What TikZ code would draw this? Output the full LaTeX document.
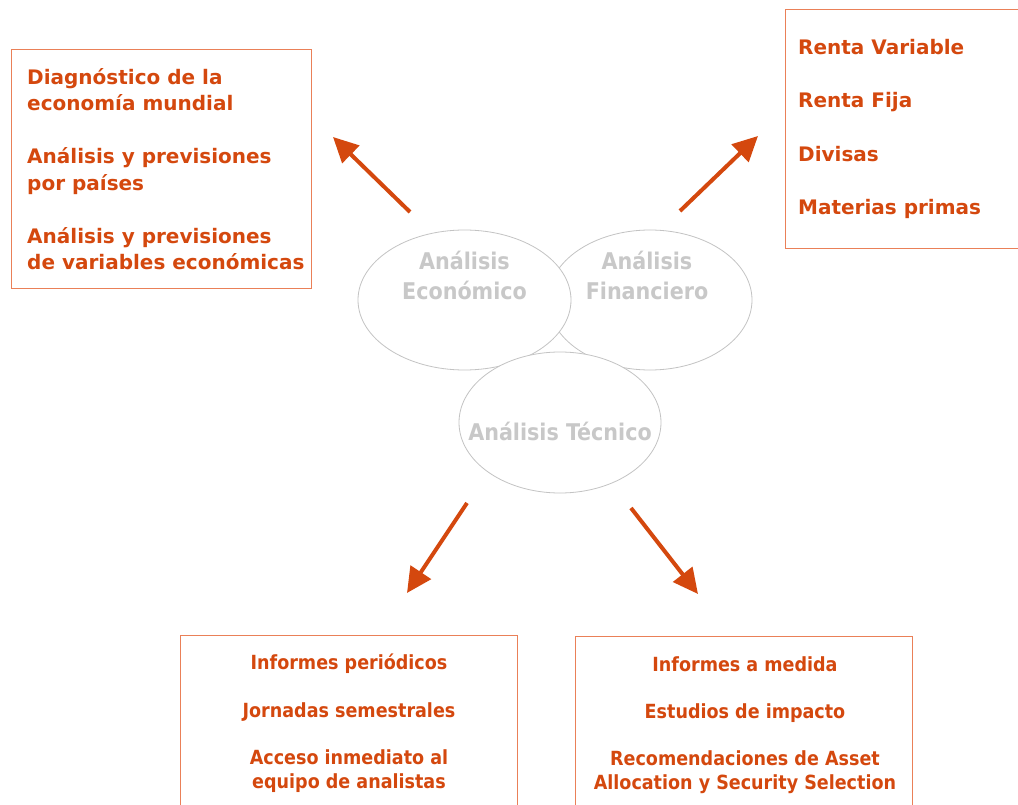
\documentclass[tikz,border=0pt]{standalone}
\usepackage{fontspec}
\setmainfont{DejaVu Sans}
\newfontfamily\condfont{DejaVu Sans Condensed}
\usetikzlibrary{arrows.meta,shapes.geometric}
\definecolor{naranja}{RGB}{212,72,14}
\definecolor{borde}{RGB}{234,128,88}
\definecolor{grisclaro}{RGB}{200,200,200}
\definecolor{grisborde}{RGB}{195,195,195}
\begin{document}
\begin{tikzpicture}[x=1pt,y=-1pt,
    caja/.style={draw=borde,line width=1pt,rectangle,inner sep=0pt},
    textoizq/.style={text=naranja,inner sep=0pt,align=left,anchor=west,font=\bfseries\fontsize{20}{26.5}\selectfont},
    textocen/.style={text=naranja,inner sep=0pt,align=center,anchor=north,font=\condfont\bfseries\fontsize{19.5}{23.7}\selectfont},
    area/.style={draw=grisborde,fill=white,ellipse,line width=0.8pt,inner sep=0pt},
    textoarea/.style={text=grisclaro,align=center,inner sep=0pt,font=\condfont\bfseries\fontsize{23}{30}\selectfont},
    flecha/.style={draw=naranja,line width=4pt,-{Triangle[length=25pt,width=24pt]}}]
    \useasboundingbox (0,0) rectangle (1018,805);

    % Las tres areas de analisis
    \node[area,minimum width=204,minimum height=140] (fin) at (650,300) {};
    \node[area,minimum width=213,minimum height=140] (eco) at (464.5,300) {};
    \node[area,minimum width=202,minimum height=141] (tec) at (560,422.5) {};
    \node[textoarea] (ecotxt) at ([yshift=25pt]eco.center) {Análisis\\Económico};
    \node[textoarea] (fintxt) at ([yshift=25pt,xshift=-3pt]fin.center) {Análisis\\Financiero};
    \node[textoarea] (tectxt) at ([yshift=-9pt]tec.center) {Análisis Técnico};

    % Cajas
    \node[caja,minimum width=300,minimum height=239,anchor=north west] (cajaeco) at (11,49) {};
    \node[textoizq] (listaeco) at ([xshift=16pt]cajaeco.west) {Diagnóstico de la\\economía mundial\\[26.5pt]Análisis y previsiones\\por países\\[26.5pt]Análisis y previsiones\\de variables económicas};

    \node[caja,minimum width=260,minimum height=239,anchor=north west] (cajafin) at (785,9) {};
    \node[textoizq] (listafin) at ([xshift=13pt]cajafin.west) {Renta Variable\\[26.8pt]Renta Fija\\[26.8pt]Divisas\\[26.8pt]Materias primas};

    \node[caja,minimum width=337,minimum height=200,anchor=north west] (cajatec) at (180,635) {};
    \node[textocen] (listatec) at ([yshift=-19pt]cajatec.north) {Informes periódicos\\[23.7pt]Jornadas semestrales\\[23.7pt]Acceso inmediato al\\equipo de analistas};

    \node[caja,minimum width=337,minimum height=200,anchor=north west] (cajamed) at (575,636) {};
    \node[textocen] (listamed) at ([yshift=-20pt,xshift=1pt]cajamed.north) {Informes a medida\\[23.7pt]Estudios de impacto\\[23.7pt]Recomendaciones de Asset\\Allocation y Security Selection};

    % Flechas
    \coordinate (f1a) at (410,212); \coordinate (f1b) at (333,137);
    \coordinate (f2a) at (680,211); \coordinate (f2b) at (758,136);
    \coordinate (f3a) at (467,503); \coordinate (f3b) at (407,593);
    \coordinate (f4a) at (631,508); \coordinate (f4b) at (698,594);
    \draw[flecha] (f1a) -- (f1b);
    \draw[flecha] (f2a) -- (f2b);
    \draw[flecha] (f3a) -- (f3b);
    \draw[flecha] (f4a) -- (f4b);
\end{tikzpicture}
\end{document}
